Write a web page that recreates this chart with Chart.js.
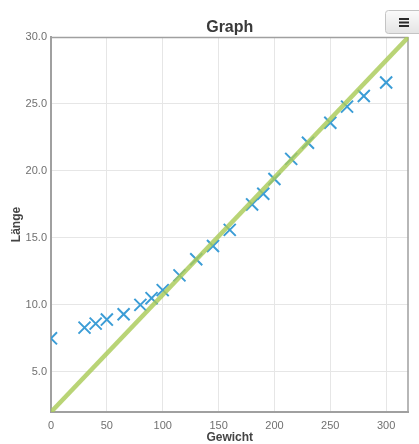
<!DOCTYPE html>
<html>
<head>
<meta charset="utf-8">
<script src="https://cdn.jsdelivr.net/npm/chart.js@4/dist/chart.umd.min.js"></script>
<style>
  html, body { margin: 0; padding: 0; background: #ffffff; }
  #wrap { position: relative; width: 419px; height: 444px; }
</style>
</head>
<body>
<div id="wrap"><canvas id="c" width="419" height="444"></canvas></div>
<script>
// Measurements: weight (x) and length (y)
const gewicht = [0, 30, 40, 50, 65, 80, 90, 100, 115, 130, 145, 160, 180, 190, 200, 215, 230, 250, 265, 280, 300];
const laenge  = [7.5, 8.3, 8.6, 8.9, 9.3, 10.0, 10.5, 11.1, 12.2, 13.4, 14.4, 15.6, 17.5, 18.3, 19.4, 20.9, 22.1, 23.6, 24.8, 25.6, 26.6];

// Fitted straight line (end points)
const fitX = [0, 320];
const fitY = [2.0, 30.0];

// Axis ticks
const xTicks = [0, 50, 100, 150, 200, 250, 300];
const yTicks = [5, 10, 15, 20, 25, 30];

const chartTitle = 'Graph';
const xTitle = 'Gewicht';
const yTitle = 'Länge';

const FONT = '"Liberation Sans", Arial, Helvetica, sans-serif';

// Title centred over the plot area, export button and top/right frame
const decorations = {
  id: 'decorations',
  beforeDatasetsDraw(chart) {
    const { ctx, chartArea: a } = chart;
    ctx.save();
    ctx.strokeStyle = '#a0a0a0';
    ctx.lineWidth = 1.5;
    ctx.beginPath();
    ctx.moveTo(a.left, a.top + 0.5);
    ctx.lineTo(a.right, a.top + 0.5);
    ctx.moveTo(a.right - 0.5, a.top);
    ctx.lineTo(a.right - 0.5, a.bottom);
    ctx.stroke();
    ctx.restore();
  },
  afterDraw(chart) {
    const { ctx, chartArea: a } = chart;
    ctx.save();
    ctx.font = 'bold 16px ' + FONT;
    ctx.fillStyle = '#3a3a3a';
    ctx.textAlign = 'center';
    ctx.textBaseline = 'middle';
    ctx.fillText(chartTitle, (a.left + a.right) / 2, 27.5);

    // context menu button
    const bx = 385.5, by = 10.5, bw = 40, bh = 23;
    const g = ctx.createLinearGradient(0, by, 0, by + bh);
    g.addColorStop(0, '#fbfbfb');
    g.addColorStop(1, '#e4e4e4');
    ctx.fillStyle = g;
    ctx.strokeStyle = '#c4c4c4';
    ctx.lineWidth = 1;
    ctx.beginPath();
    ctx.roundRect(bx, by, bw, bh, 3);
    ctx.fill();
    ctx.stroke();
    ctx.fillStyle = '#2a2a2a';
    [18, 21.5, 25].forEach(y => ctx.fillRect(399, y, 10, 2));
    ctx.restore();
  }
};

new Chart(document.getElementById('c'), {
  type: 'scatter',
  data: {
    datasets: [
      {
        label: 'Messwerte',
        data: gewicht.map((x, i) => ({ x: x, y: laenge[i] })),
        pointStyle: 'crossRot',
        pointRadius: 8.5,
        pointHoverRadius: 8.5,
        borderColor: '#3c9dd6',
        backgroundColor: '#3c9dd6',
        borderWidth: 2,
        pointBorderWidth: 2,
        order: 1
      },
      {
        label: 'Regression',
        data: fitX.map((x, i) => ({ x: x, y: fitY[i] })),
        showLine: true,
        borderColor: 'rgba(170, 202, 88, 0.82)',
        borderWidth: 4.5,
        pointRadius: 0,
        pointHoverRadius: 0,
        fill: false,
        order: 0
      }
    ]
  },
  options: {
    responsive: false,
    animation: false,
    devicePixelRatio: 1,
    layout: { padding: { top: 37, right: 7, left: 0, bottom: 0 } },
    plugins: {
      legend: { display: false },
      title: { display: false },
      tooltip: { enabled: false }
    },
    scales: {
      x: {
        type: 'linear',
        min: fitX[0],
        max: fitX[1],
        afterBuildTicks: s => { s.ticks = xTicks.map(v => ({ value: v })); },
        afterFit: s => { s.height = 32; },
        grid: { color: '#e6e6e6', lineWidth: 1, drawTicks: false },
        border: { color: '#a0a0a0', width: 2 },
        ticks: {
          color: '#707070',
          font: { family: FONT, size: 11 },
          padding: 7,
          maxRotation: 0,
          callback: v => String(v)
        },
        title: {
          display: true,
          text: xTitle,
          color: '#444444',
          font: { family: FONT, size: 12, weight: 'bold', lineHeight: 1.0 },
          padding: { top: 0, bottom: 0 }
        }
      },
      y: {
        type: 'linear',
        min: fitY[0],
        max: fitY[1],
        afterBuildTicks: s => { s.ticks = yTicks.map(v => ({ value: v })); },
        afterFit: s => { s.width = 51; },
        grid: { color: '#e6e6e6', lineWidth: 1, drawTicks: false },
        border: { color: '#a0a0a0', width: 2 },
        ticks: {
          color: '#707070',
          font: { family: FONT, size: 11 },
          padding: 4,
          callback: v => Number(v).toFixed(1)
        },
        title: {
          display: true,
          text: yTitle,
          color: '#444444',
          font: { family: FONT, size: 12, weight: 'bold', lineHeight: 1.0 },
          padding: { top: 11, bottom: 0 }
        }
      }
    }
  },
  plugins: [decorations]
});
</script>
</body>
</html>
